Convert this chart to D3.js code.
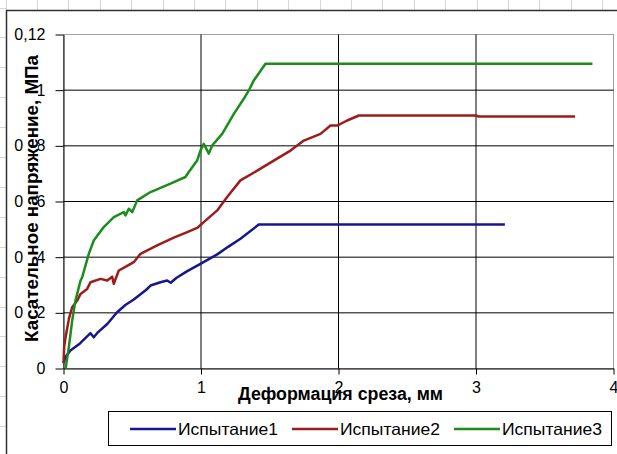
<!DOCTYPE html>
<html>
<head>
<meta charset="utf-8">
<script src="https://cdn.jsdelivr.net/npm/d3@7"></script>
<style>
  html, body { margin: 0; padding: 0; background: #fff; overflow: hidden; }
  text { font-family: "Liberation Sans", Arial, sans-serif; }
</style>
</head>
<body>
<svg id="chart" width="617" height="454"></svg>
<script>
// Shear tests: shear deformation (mm) vs. shear stress (MPa)
const seriesNames = ["Испытание1", "Испытание2", "Испытание3"];
const seriesColors = ["#16168e", "#9c1c1c", "#1c8c1c"];

const xTickValues = [0, 1, 2, 3, 4];
const xTickLabels = ["0", "1", "2", "3", "4"];
const yTickValues = [0, 0.02, 0.04, 0.06, 0.08, 0.10, 0.12];
const yTickLabels = ["0", "0,02", "0,04", "0,06", "0,08", "0,1", "0,12"];

const xTitle = "Деформация среза, мм";
const yTitle = "Касательное напряжение, МПа";

// [deformation, stress]
const test1 = [
  [0, 0.002], [0.02, 0.0045], [0.05, 0.0065], [0.12, 0.009], [0.196, 0.0127],
  [0.22, 0.0112], [0.25, 0.013], [0.318, 0.016], [0.39, 0.0202], [0.45, 0.0228],
  [0.511, 0.0248], [0.6, 0.0282], [0.633, 0.0298], [0.705, 0.031], [0.754, 0.0316],
  [0.78, 0.0308], [0.82, 0.0325], [0.9, 0.035], [0.996, 0.0376], [1.118, 0.041],
  [1.2, 0.0438], [1.287, 0.0466], [1.42, 0.0517], [3.21, 0.0517]
];
const test2 = [
  [0, 0.002], [0.005, 0.008], [0.015, 0.0112], [0.04, 0.018], [0.063, 0.022],
  [0.1, 0.0244], [0.124, 0.0268], [0.172, 0.0286], [0.196, 0.031], [0.269, 0.0322],
  [0.318, 0.0316], [0.354, 0.033], [0.366, 0.0304], [0.402, 0.0352], [0.45, 0.0365],
  [0.511, 0.0382], [0.56, 0.0412], [0.681, 0.0442], [0.802, 0.047], [0.9, 0.049],
  [0.972, 0.0505], [1.02, 0.0526], [1.118, 0.0568], [1.19, 0.0616], [1.287, 0.0676],
  [1.409, 0.0711], [1.529, 0.0747], [1.651, 0.0783], [1.748, 0.0819], [1.869, 0.0843],
  [1.942, 0.0873], [1.99, 0.0873], [2.063, 0.0891], [2.148, 0.0909], [3.0, 0.0909],
  [3.02, 0.0905], [3.72, 0.0905]
];
const test3 = [
  [0.015, 0], [0.039, 0.0077], [0.063, 0.0172], [0.087, 0.0244], [0.124, 0.0316],
  [0.136, 0.0328], [0.184, 0.0412], [0.22, 0.046], [0.293, 0.0508], [0.366, 0.0544],
  [0.439, 0.0562], [0.451, 0.055], [0.475, 0.0574], [0.5, 0.0562], [0.536, 0.0604],
  [0.633, 0.0634], [0.778, 0.0664], [0.887, 0.0688], [0.911, 0.0706], [0.972, 0.0747],
  [0.996, 0.0783], [1.02, 0.0807], [1.057, 0.0772], [1.081, 0.0801], [1.154, 0.0843],
  [1.239, 0.0915], [1.311, 0.0969], [1.348, 0.0999], [1.384, 0.1035], [1.469, 0.1095],
  [3.847, 0.1095]
];
const allSeries = [test1, test2, test3];

const svg = d3.select("#chart");

// worksheet cell grid behind the chart object
const cells = svg.append("g").attr("stroke", "#d6d6d6").attr("stroke-width", 1);
d3.range(5.5, 617, 31.4).forEach(px => {
  cells.append("line").attr("x1", Math.round(px) + 0.5).attr("x2", Math.round(px) + 0.5)
    .attr("y1", 0).attr("y2", 10);
});
d3.range(7.5, 454, 29.9).forEach(py => {
  cells.append("line").attr("y1", Math.round(py) + 0.5).attr("y2", Math.round(py) + 0.5)
    .attr("x1", 0).attr("x2", 6);
});

// chart object frame
svg.append("rect")
  .attr("x", 6.5).attr("y", 10.5).attr("width", 700).attr("height", 500)
  .attr("fill", "#fff").attr("stroke", "#303030").attr("stroke-width", 1.5);

const x = d3.scaleLinear().domain([0, 4]).range([63.5, 613.5]);
const y = d3.scaleLinear().domain([0, 0.12]).range([368.5, 34.5]);

// plot area
svg.append("rect")
  .attr("x", x(0)).attr("y", y(0.12))
  .attr("width", x(4) - x(0)).attr("height", y(0) - y(0.12))
  .attr("fill", "#fff").attr("stroke", "#a0a0a0").attr("stroke-width", 1);

// gridlines
const grid = svg.append("g").attr("stroke", "#000").attr("stroke-width", 1);
grid.selectAll("line.h").data(yTickValues.filter(v => v > 0 && v < 0.12)).join("line")
  .attr("class", "h").attr("x1", x(0)).attr("x2", x(4))
  .attr("y1", d => y(d)).attr("y2", d => y(d));
grid.selectAll("line.v").data(xTickValues.filter(v => v > 0 && v < 4)).join("line")
  .attr("class", "v").attr("y1", y(0)).attr("y2", y(0.12))
  .attr("x1", d => x(d)).attr("x2", d => x(d));

// axes
const yAxis = d3.axisLeft(y).tickValues(yTickValues)
  .tickFormat((d, i) => yTickLabels[i]).tickSize(8).tickSizeOuter(0).tickPadding(10);
const gy = svg.append("g").attr("transform", `translate(${x(0)},0)`).call(yAxis);

const xAxis = d3.axisBottom(x).tickValues(xTickValues)
  .tickFormat((d, i) => xTickLabels[i]).tickSize(6).tickSizeOuter(0).tickPadding(7.5);
const gx = svg.append("g").attr("transform", `translate(0,${y(0)})`).call(xAxis);

[gx, gy].forEach(g => {
  g.select(".domain").attr("stroke", "#000");
  g.selectAll(".tick line").attr("stroke", "#000");
  g.selectAll("text").attr("font-size", 16).attr("fill", "#000")
    .attr("font-family", "Liberation Sans, Arial, sans-serif");
});

// series
const line = d3.line().x(d => x(d[0])).y(d => y(d[1]));
svg.append("g").selectAll("path").data(allSeries).join("path")
  .attr("d", line)
  .attr("fill", "none")
  .attr("stroke", (d, i) => seriesColors[i])
  .attr("stroke-width", 2.5)
  .attr("stroke-linejoin", "round");

// axis titles
svg.append("text")
  .attr("x", 340.5).attr("y", 400)
  .attr("text-anchor", "middle")
  .attr("font-size", 18).attr("font-weight", "bold")
  .attr("textLength", 205).attr("lengthAdjust", "spacingAndGlyphs")
  .text(xTitle);

svg.append("rect")
  .attr("x", 23).attr("y", 55).attr("width", 15).attr("height", 287)
  .attr("fill", "#fff");
svg.append("text")
  .attr("transform", "translate(37.5,198.5) rotate(-90)")
  .attr("text-anchor", "middle")
  .attr("font-size", 18).attr("font-weight", "bold")
  .attr("textLength", 287).attr("lengthAdjust", "spacingAndGlyphs")
  .text(yTitle);

// legend
const legend = svg.append("g");
legend.append("rect")
  .attr("x", 108.5).attr("y", 411.5).attr("width", 503).attr("height", 34)
  .attr("fill", "#fff").attr("stroke", "#000").attr("stroke-width", 1);
const items = legend.selectAll("g.item").data(seriesNames).join("g")
  .attr("class", "item")
  .attr("transform", (d, i) => `translate(${130 + i * 162},429)`);
items.append("line")
  .attr("x1", 0).attr("x2", 46).attr("y1", 0).attr("y2", 0)
  .attr("stroke", (d, i) => seriesColors[i]).attr("stroke-width", 2.5);
items.append("text")
  .attr("x", 48).attr("y", 6)
  .attr("font-size", 16.5)
  .attr("textLength", 100).attr("lengthAdjust", "spacingAndGlyphs")
  .text(d => d);
</script>
</body>
</html>
